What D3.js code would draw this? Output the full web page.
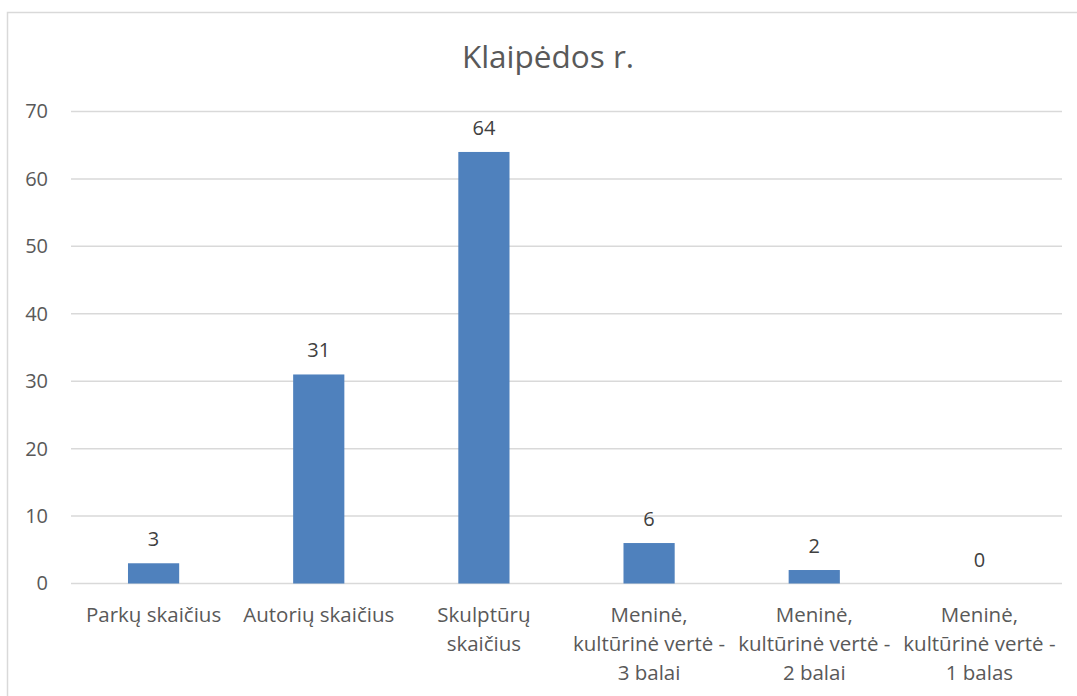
<!DOCTYPE html>
<html>
<head>
<meta charset="utf-8">
<script src="https://cdn.jsdelivr.net/npm/d3@7"></script>
<style>
  body { margin: 0; background: #fff; }
  svg { display: block; font-family: "Open Sans", "Noto Sans", sans-serif; }
</style>
</head>
<body>
<svg id="chart" width="1077" height="696"></svg>
<script>
// data
const title = 'Klaipėdos r.';
const categories = [
    ['Parkų skaičius'],
    ['Autorių skaičius'],
    ['Skulptūrų', 'skaičius'],
    ['Meninė,', 'kultūrinė vertė -', '3 balai'],
    ['Meninė,', 'kultūrinė vertė -', '2 balai'],
    ['Meninė,', 'kultūrinė vertė -', '1 balas']
];
const values = [3, 31, 64, 6, 2, 0];
const yTicks = [0, 10, 20, 30, 40, 50, 60, 70];

// look
const colorBar = '#4f81bd';
const colorGrid = '#d9d9d9';
const colorText = '#595959';

const svg = d3.select('#chart');
const plotLeft = 71, plotRight = 1062, plotTop = 111.5, plotBottom = 583.5;

// chart border (right and bottom fall outside the picture)
svg.append('rect')
    .attr('x', 7.5).attr('y', 12.5)
    .attr('width', 1100).attr('height', 720)
    .attr('fill', 'none')
    .attr('stroke', colorGrid)
    .attr('stroke-width', 1.5);

const x = d3.scaleBand()
    .domain(d3.range(categories.length))
    .range([plotLeft, plotRight])
    .paddingInner(0.69)
    .paddingOuter(0.345);

const y = d3.scaleLinear().domain([0, 70]).range([plotBottom, plotTop]);

// gridlines
svg.append('g')
    .selectAll('line')
    .data(yTicks)
    .join('line')
    .attr('x1', plotLeft).attr('x2', plotRight)
    .attr('y1', d => y(d)).attr('y2', d => y(d))
    .attr('stroke', colorGrid)
    .attr('stroke-width', 1.5);

// y axis labels
const yAxis = d3.axisLeft(y).tickValues(yTicks).tickSize(0).tickPadding(0);
svg.append('g')
    .attr('transform', 'translate(48,0)')
    .call(yAxis)
    .call(g => g.select('.domain').remove())
    .call(g => g.selectAll('text')
        .attr('font-size', 20)
        .attr('font-family', '"Open Sans", sans-serif')
        .attr('fill', colorText));

// bars
svg.append('g')
    .selectAll('rect')
    .data(values)
    .join('rect')
    .attr('x', (d, i) => x(i))
    .attr('width', x.bandwidth())
    .attr('y', d => y(d))
    .attr('height', d => y(0) - y(d))
    .attr('fill', colorBar);

// value labels
svg.append('g')
    .selectAll('text')
    .data(values)
    .join('text')
    .attr('x', (d, i) => x(i) + x.bandwidth() / 2)
    .attr('y', d => y(d) - 17)
    .attr('text-anchor', 'middle')
    .attr('font-size', 20)
    .attr('fill', '#404040')
    .text(d => d);

// category labels
const catG = svg.append('g')
    .selectAll('text')
    .data(categories)
    .join('text')
    .attr('x', (d, i) => x(i) + x.bandwidth() / 2)
    .attr('y', 622)
    .attr('text-anchor', 'middle')
    .attr('font-size', 20.5)
    .attr('fill', colorText);

catG.selectAll('tspan')
    .data(d => d)
    .join('tspan')
    .attr('x', function () { return d3.select(this.parentNode).attr('x'); })
    .attr('dy', (d, i) => i === 0 ? 0 : 29)
    .text(d => d);

// title
svg.append('text')
    .attr('x', 548)
    .attr('y', 68)
    .attr('text-anchor', 'middle')
    .attr('font-size', 31.5)
    .attr('fill', colorText)
    .text(title);
</script>
</body>
</html>
